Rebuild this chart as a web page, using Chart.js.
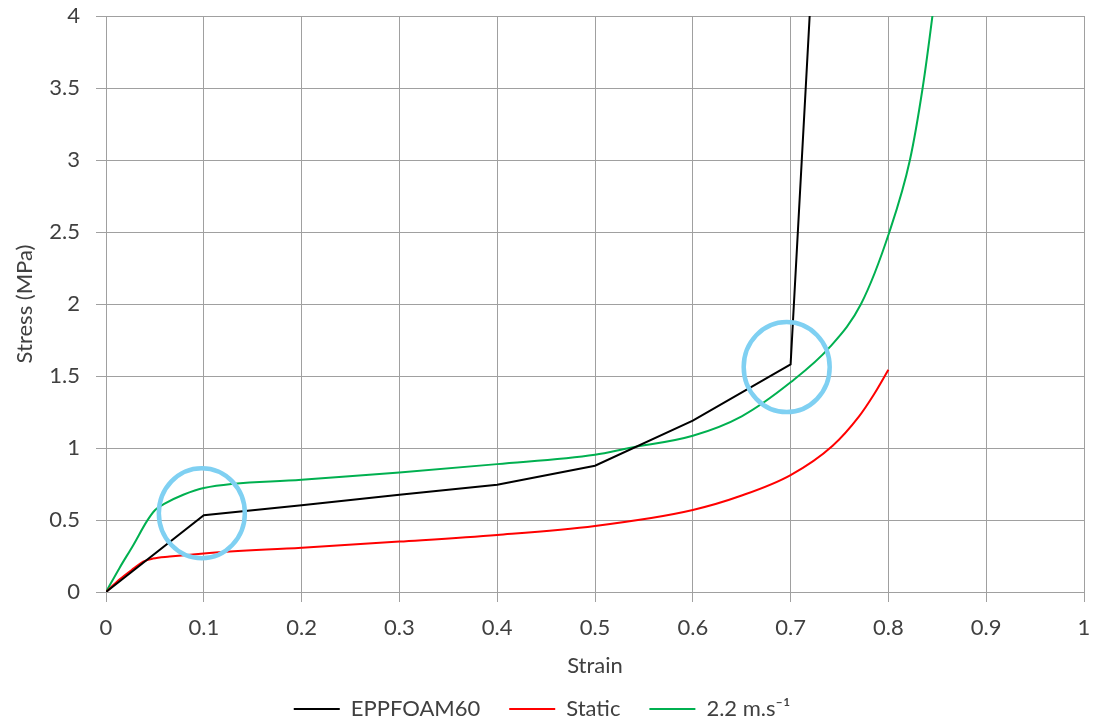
<!DOCTYPE html>
<html>
<head>
<meta charset="utf-8">
<script src="https://cdn.jsdelivr.net/npm/chart.js@4.4.0/dist/chart.umd.min.js"></script>
<style>
  html, body { margin: 0; padding: 0; background: #ffffff; }
  #wrap { width: 1097px; height: 722px; position: relative; }
</style>
</head>
<body>
<div id="wrap"><canvas id="c" width="1097" height="722"></canvas></div>
<script>
// ---- data ----
const seriesNames = ["EPPFOAM60", "Static", "2.2 m.s\u207B\u00B9"];

const eppStrain  = [0, 0.1, 0.2, 0.3, 0.4, 0.5, 0.6, 0.7, 0.8];
const eppStress  = [0, 0.533, 0.603, 0.675, 0.745, 0.877, 1.19, 1.58, 14.0];

const staticStrain = [0, 0.014, 0.028, 0.038, 0.048, 0.065, 0.1, 0.2, 0.3, 0.4, 0.5, 0.6, 0.65, 0.7, 0.743, 0.77, 0.785, 0.8];
const staticStress = [0, 0.088, 0.162, 0.211, 0.232, 0.246, 0.268, 0.308, 0.35, 0.396, 0.459, 0.57, 0.67, 0.812, 1.016, 1.22, 1.37, 1.544];

const dynStrain = [0, 0.014, 0.028, 0.042, 0.05, 0.059, 0.079, 0.1, 0.2, 0.3, 0.4, 0.5, 0.535, 0.6, 0.65, 0.7, 0.74, 0.772, 0.801, 0.822, 0.835, 0.845, 0.852];
const dynStress = [0, 0.169, 0.327, 0.494, 0.568, 0.61, 0.675, 0.722, 0.779, 0.83, 0.888, 0.953, 1.0, 1.085, 1.22, 1.456, 1.70, 2.0, 2.5, 3.0, 3.5, 4.0, 4.4];

const xTicks = [0, 0.1, 0.2, 0.3, 0.4, 0.5, 0.6, 0.7, 0.8, 0.9, 1];
const yTicks = [0, 0.5, 1, 1.5, 2, 2.5, 3, 3.5, 4];

// highlighted regions (data coordinates of circle centres)
const highlightCenters = [[0.098, 0.547], [0.696, 1.562]];

const toPts = (xs, ys) => xs.map((x, i) => ({ x: x, y: ys[i] }));

const FONT = "Lato, 'Open Sans', 'DejaVu Sans', sans-serif";
const FS = 22;
const TXT = '#404040';
const GRID = '#a0a0a0';

const circlePlugin = {
  id: 'circles',
  afterDatasetsDraw(chart) {
    const { ctx, scales } = chart;
    ctx.save();
    ctx.strokeStyle = '#7fd0f2';
    ctx.lineWidth = 4.5;
    highlightCenters.forEach(([cx, cy]) => {
      const px = scales.x.getPixelForValue(cx);
      const py = scales.y.getPixelForValue(cy);
      ctx.beginPath();
      ctx.ellipse(px, py, 43, 45, 0, 0, Math.PI * 2);
      ctx.stroke();
    });
    ctx.restore();
  }
};

const legendShift = {
  id: 'legendShift',
  afterLayout(chart) {
    const lg = chart.legend;
    if (lg) { lg.left += 0; lg.right += 0; lg.top += 6; lg.bottom += 6; }
  }
};

new Chart(document.getElementById('c'), {
  type: 'line',
  data: {
    datasets: [
      { label: seriesNames[0], data: toPts(eppStrain, eppStress), borderColor: '#000000', backgroundColor: '#000000', borderWidth: 2, tension: 0, pointRadius: 0 },
      { label: seriesNames[1], data: toPts(staticStrain, staticStress), borderColor: '#ff0000', backgroundColor: '#ff0000', borderWidth: 2, cubicInterpolationMode: 'monotone', pointRadius: 0 },
      { label: seriesNames[2], data: toPts(dynStrain, dynStress), borderColor: '#00b050', backgroundColor: '#00b050', borderWidth: 2, cubicInterpolationMode: 'monotone', pointRadius: 0 }
    ]
  },
  options: {
    responsive: false,
    animation: false,
    devicePixelRatio: 1,
    layout: { padding: { top: 3, right: 13, bottom: -2, left: 0 } },
    plugins: {
      tooltip: { enabled: false },
      legend: {
        position: 'bottom',
        labels: {
          font: { family: FONT, size: FS },
          color: TXT,
          boxWidth: 46,
          boxHeight: 2,
          padding: 29,
          generateLabels(chart) {
            return Chart.defaults.plugins.legend.labels.generateLabels(chart).map(l => Object.assign(l, { lineWidth: 0 }));
          }
        }
      }
    },
    scales: {
      x: {
        type: 'linear',
        min: 0, max: 1,
        afterBuildTicks: s => { s.ticks = xTicks.map(v => ({ value: v })); },
        afterFit: s => { s.height = 71; s.paddingLeft = 0; s.paddingRight = 0; },
        ticks: { font: { family: FONT, size: FS }, color: TXT, padding: 13, maxRotation: 0, callback: v => String(v) },
        grid: { color: GRID, lineWidth: 1, tickLength: 10, drawTicks: true },
        border: { color: GRID, width: 1 },
        title: { display: true, text: 'Strain', font: { family: FONT, size: FS }, color: TXT, padding: { top: 0, bottom: -16 } }
      },
      y: {
        type: 'linear',
        min: 0, max: 4,
        afterBuildTicks: s => { s.ticks = yTicks.map(v => ({ value: v })); },
        afterFit: s => { s.width = 106; s.paddingTop = 16; s.paddingBottom = 14; },
        ticks: { font: { family: FONT, size: FS }, color: TXT, padding: 16, callback: v => String(v) },
        grid: { color: GRID, lineWidth: 1, tickLength: 10 },
        border: { color: GRID, width: 1 },
        title: { display: true, text: 'Stress (MPa)', font: { family: FONT, size: FS }, color: TXT, padding: { top: 12, bottom: 0 } }
      }
    }
  },
  plugins: [circlePlugin, legendShift]
});
</script>
</body>
</html>
